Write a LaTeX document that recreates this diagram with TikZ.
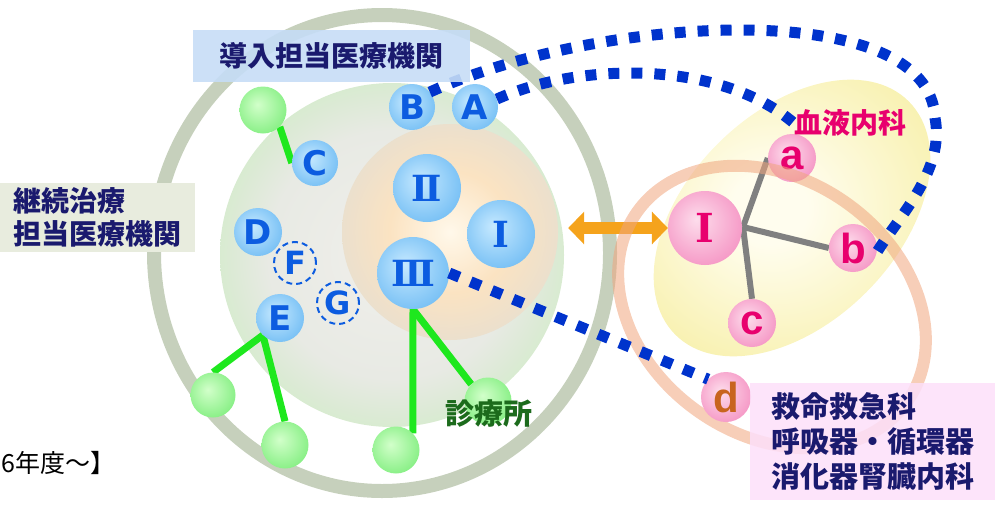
\documentclass[tikz,border=0pt]{standalone}
\usepackage{fontspec}
\usepackage{xcolor}
\usepackage{tikz}
\usetikzlibrary{arrows.meta, shapes.geometric, positioning}
\newfontfamily\jp{Noto Sans CJK JP}
\newfontfamily\lat{DejaVu Sans}
\newfontfamily\ser{DejaVu Serif}
\newfontfamily\arl{Liberation Sans}

\definecolor{navy}{HTML}{1A1A6E}
\definecolor{letblue}{HTML}{0C5CE0}
\definecolor{letpink}{HTML}{E8006E}
\definecolor{dbrown}{HTML}{C8641E}
\definecolor{dotblue}{HTML}{0033CC}
\definecolor{linegreen}{HTML}{1EE81E}
\definecolor{ringgray}{HTML}{A7B798}
\definecolor{ringsalmon}{HTML}{F0A57E}
\definecolor{titleblue}{HTML}{C6DDF6}
\definecolor{leftgreen}{HTML}{E8ECDE}
\definecolor{boxpink}{HTML}{FDDFF9}
\definecolor{arroworange}{HTML}{F5A31C}
\definecolor{clinicgreen}{HTML}{1C6B1C}
\definecolor{bbin}{HTML}{C6E9FF}
\definecolor{bbout}{HTML}{55AEF0}
\definecolor{pbin}{HTML}{FDDDEC}
\definecolor{pbout}{HTML}{F27AB5}
\definecolor{gbin}{HTML}{D2FFCA}
\definecolor{gbout}{HTML}{66E866}
\definecolor{bgmid}{HTML}{F0EFEB}
\definecolor{bgmid2}{HTML}{E8EAE4}
\definecolor{bgrim}{HTML}{CDEBC3}
\definecolor{bgedge}{HTML}{BBE7AE}
\definecolor{coremid}{HTML}{FFF8EA}
\definecolor{coremid2}{HTML}{FBE3C2}
\definecolor{corerim}{HTML}{E4DED2}
\definecolor{coreedge}{HTML}{CAC8C2}
\definecolor{yelmid}{HTML}{FFFDEE}
\definecolor{yeledge}{HTML}{F1E572}

\pgfdeclareradialshading{ballblue}{\pgfpoint{-6bp}{6bp}}{color(0bp)=(bbin); color(42bp)=(bbout); color(50bp)=(bbout)}
\pgfdeclareradialshading{ballpink}{\pgfpoint{-6bp}{6bp}}{color(0bp)=(pbin); color(42bp)=(pbout); color(50bp)=(pbout)}
\pgfdeclareradialshading{ballgreen}{\pgfpoint{-6bp}{6bp}}{color(0bp)=(gbin); color(42bp)=(gbout); color(50bp)=(gbout)}
\pgfdeclareradialshading{clinicbg}{\pgfpoint{0bp}{0bp}}{color(0bp)=(bgmid); color(18bp)=(bgmid2); color(30bp)=(bgrim); color(50bp)=(bgedge)}
\pgfdeclareradialshading{corebg}{\pgfpoint{0bp}{0bp}}{color(0bp)=(coremid); color(14bp)=(coremid2); color(30bp)=(corerim); color(50bp)=(coreedge)}
\pgfdeclareradialshading{hembg}{\pgfpoint{-4bp}{0bp}}{color(0bp)=(yelmid); color(6bp)=(yelmid); color(50bp)=(yeledge)}

\pgfdeclarelayer{back}
\pgfdeclarelayer{mid}
\pgfsetlayers{back,mid,main}

\tikzset{
    blueball/.style = {circle, shade, shading=ballblue, minimum size=#1, inner sep=0pt, text=letblue,
      font=\lat\bfseries\fontsize{34}{34}\selectfont},
    romanball/.style = {blueball=#1, font=\ser\bfseries\fontsize{36}{36}\selectfont},
    ghostball/.style = {circle, draw=letblue, line width=2pt, dash pattern=on 6pt off 4pt, minimum size=42,
      inner sep=0pt, text=letblue, font=\lat\bfseries\fontsize{32}{32}\selectfont},
    greenball/.style = {circle, shade, shading=ballgreen, minimum size=47, inner sep=0pt},
    pinkball/.style = {circle, shade, shading=ballpink, minimum size=#1, inner sep=0pt, text=letpink,
      font=\arl\bfseries\fontsize{42}{42}\selectfont},
    labelbox/.style = {rectangle, inner sep=0pt, text=navy, font=\jp\bfseries\fontsize{28}{33}\selectfont},
    stem/.style = {linegreen, line width=7pt},
    spoke/.style = {gray, line width=6pt},
    dotline/.style = {dotblue, line width=11pt, dash pattern=on 11pt off 12pt},
    biarrow/.style = {arroworange, line width=12pt, {Triangle[length=16pt,width=32pt]}-{Triangle[length=16pt,width=32pt]}}
}

\begin{document}
\begin{tikzpicture}[x=1pt, y=-1pt]
\useasboundingbox (0,0) rectangle (995,504);

\begin{pgfonlayer}{back}
\node[circle, shade, shading=clinicbg, minimum size=344, name=clinicarea] at (392,255) {};
\node[circle, shade, shading=corebg, minimum size=216, name=core] at (450,232) {};
\node[ellipse, shade, shading=hembg, minimum width=330, minimum height=210, rotate=45, name=hemarea] at (792,218) {};
\node[ellipse, draw=ringgray, line width=14pt, draw opacity=0.65, minimum width=456, minimum height=476,
	name=region] at (382,253) {};
\end{pgfonlayer}

% blue: hospitals
\node[blueball=46, name=B] at (412,107) {B};
\node[blueball=46, name=A] at (475,107) {A};
\node[blueball=46, name=C] at (315,163) {C};
\node[blueball=48, name=D] at (258,232) {D};
\node[blueball=48, name=E] at (280,318) {E};
\node[ghostball, name=F] at (295,263) {F};
\node[ghostball, name=G] at (338,303) {G};
\node[romanball=68, name=II] at (427,188) {Ⅱ};
\node[romanball=68, name=I] at (501,234) {Ⅰ};
\node[romanball=72, name=III] at (413,273) {Ⅲ};

% green: clinics
\node[greenball, name=gC] at (263,110) {};
\node[greenball, minimum size=45, name=gE1] at (213,395) {};
\node[greenball, name=gE2] at (285,445) {};
\node[greenball, name=gIII1] at (396,450) {};
\node[greenball, name=gIII2] at (488,401) {};

\begin{pgfonlayer}{mid}
\draw[stem] (gC.south east) -- (C.west);
\draw[stem] (E.south west) -- (gE1.north);
\draw[stem] (E.south west) -- (gE2.north);
\draw[stem] (III.south) -- (gIII1.north east);
\draw[stem] (III.south) -- (gIII2.north west);
\end{pgfonlayer}

% pink: departments
\node[pinkball=74, font=\ser\bfseries\fontsize{40}{40}\selectfont, name=hemI] at (705,228) {Ⅰ};
\node[pinkball=48, name=a] at (792,158) {a};
\node[pinkball=48, name=b] at (853,248) {b};
\node[pinkball=48, name=c] at (752,323) {c};
\coordinate (hub) at (743,227);
\begin{pgfonlayer}{mid}
\draw[spoke] (hub) -- (a.west);
\draw[spoke] (hub) -- (b.west);
\draw[spoke] (hub) -- (c.north);
\draw[biarrow] (hemI.west -| core.east) ++(10,0) -- (hemI.west);
\end{pgfonlayer}

\node[ellipse, draw=ringsalmon, line width=12pt, draw opacity=0.55, minimum width=330, minimum height=256,
	rotate=-35, name=emergarea] at (772,307) {};
\node[pinkball=50, text=dbrown, name=d] at (726,397) {d};

\node[labelbox, text=letpink, name=hemlabel] at (850,123) {血液内科};
\node[labelbox, text=clinicgreen, font=\jp\bfseries\fontsize{29}{29}\selectfont, name=clinic] at (489,413) {診療所};
\node[labelbox, fill=leftgreen, anchor=north west, minimum width=195, minimum height=69, inner xsep=13,
	align=left, name=carer] at (0,183) {継続治療\\担当医療機関};
\node[labelbox, fill=boxpink, fill opacity=0.85, text opacity=1, anchor=north west, minimum width=245,
	minimum height=117, inner xsep=20, align=left, font=\jp\bfseries\fontsize{29}{35}\selectfont,
	name=deptbox] at (750,383) {救命救急科\\呼吸器・循環器\\消化器腎臓内科};
\node[anchor=west, inner sep=0pt, font=\jp\fontsize{25}{25}\selectfont, name=since] at (1,463) {6年度〜】};

\draw[dotline] (III.east) -- (d.north west);
\draw[dotline] (A.20) .. controls (580,62) and (720,60) .. (hemlabel.west);
\draw[dotline] (B.40) .. controls (600,15) and (930,-5) .. (935,118) .. controls (945,170) and (900,215) .. (b.-10);

\node[labelbox, fill=titleblue, fill opacity=0.9, text opacity=1, anchor=north west, minimum width=277,
	minimum height=52, name=intro] at (193,30) {導入担当医療機関};
\end{tikzpicture}
\end{document}
